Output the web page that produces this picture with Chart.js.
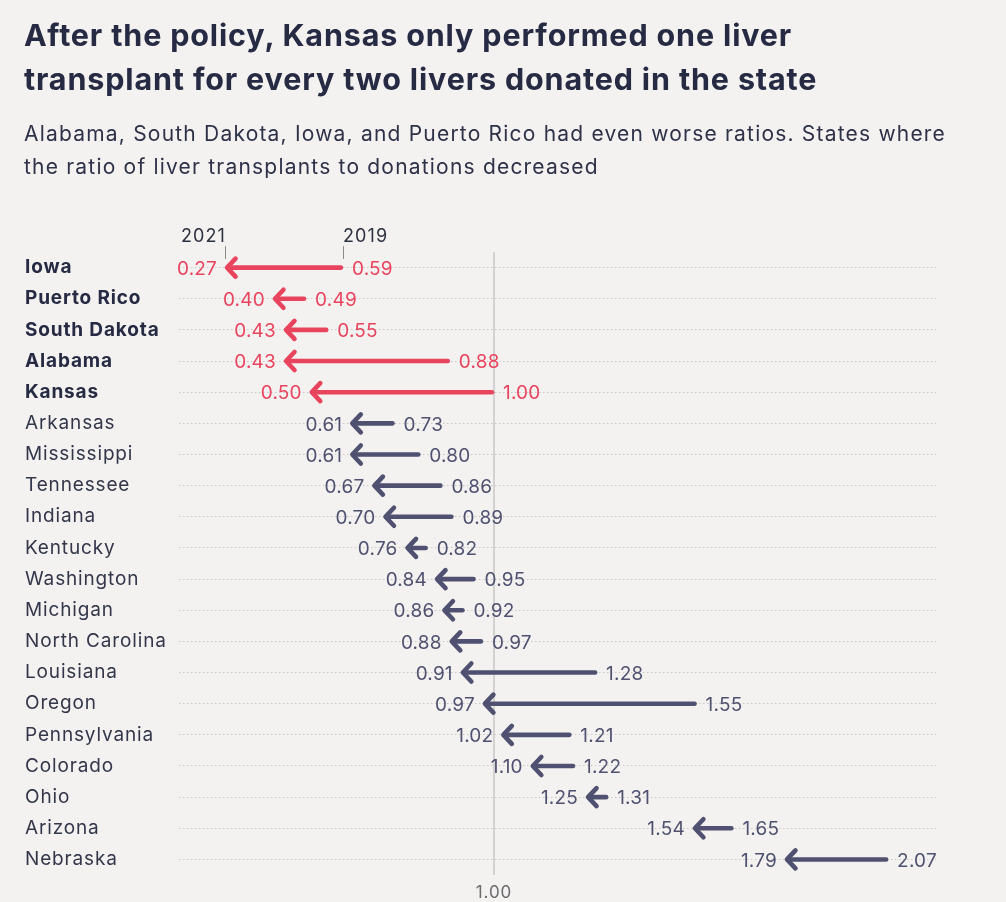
<!DOCTYPE html>
<html>
<head>
<meta charset="utf-8">
<script src="https://cdn.jsdelivr.net/npm/chart.js@4.4.1/dist/chart.umd.min.js"></script>
<style>
  html, body { margin: 0; padding: 0; background: #f3f2f0; }
  #wrap { position: relative; width: 1006px; height: 902px; overflow: hidden; }
  canvas { position: absolute; left: 0; top: 0; }
  #title { position: absolute; left: 24px; top: 13px; width: 980px; margin: 0;
    font-family: Inter, "Noto Sans", sans-serif; font-weight: 700; font-size: 30.5px; line-height: 44px;
    letter-spacing: 0.85px; color: #262a43; white-space: nowrap; }
  #sub { position: absolute; left: 24px; top: 117px; width: 980px; margin: 0;
    font-family: Inter, "Noto Sans", sans-serif; font-weight: 400; font-size: 21px; line-height: 33px;
    letter-spacing: 1.2px; color: #2e3148; white-space: nowrap; }
</style>
</head>
<body>
<div id="wrap">
  <canvas id="c" width="1006" height="902"></canvas>
  <h1 id="title">After the policy, Kansas only performed one liver<br>transplant for every two livers donated in the state</h1>
  <p id="sub">Alabama, South Dakota, Iowa, and Puerto Rico had even worse ratios. States where<br>the ratio of liver transplants to donations decreased</p>
</div>
<script>
const states = ["Iowa","Puerto Rico","South Dakota","Alabama","Kansas","Arkansas","Mississippi","Tennessee","Indiana","Kentucky","Washington","Michigan","North Carolina","Louisiana","Oregon","Pennsylvania","Colorado","Ohio","Arizona","Nebraska"];
const ratio2019 = [0.59,0.49,0.55,0.88,1.00,0.73,0.80,0.86,0.89,0.82,0.95,0.92,0.97,1.28,1.55,1.21,1.22,1.31,1.65,2.07];
const ratio2021 = [0.27,0.40,0.43,0.43,0.50,0.61,0.61,0.67,0.70,0.76,0.84,0.86,0.88,0.91,0.97,1.02,1.10,1.25,1.54,1.79];
const highlighted = ["Iowa","Puerto Rico","South Dakota","Alabama","Kansas"];
const xTicks = [1.00];
const yearLabels = ["2021","2019"];

const RED = "#e9445e";
const DARK = "#505170";
const FONT = "Inter, 'Noto Sans', sans-serif";

const isHi = i => highlighted.includes(states[i]);

const spacingPlugin = {
  id: "spacing",
  beforeDraw(chart) { chart.ctx.letterSpacing = "0.85px"; },
  beforeDatasetsDraw(chart) { chart.ctx.letterSpacing = "0px"; }
};

const arrowPlugin = {
  id: "arrows",
  afterDatasetsDraw(chart) {
    const ctx = chart.ctx;
    const m21 = chart.getDatasetMeta(0).data;
    const m19 = chart.getDatasetMeta(1).data;
    ctx.save();
    ctx.letterSpacing = "0.2px";
    for (let i = 0; i < states.length; i++) {
      const a = m21[i], b = m19[i];
      const col = isHi(i) ? RED : DARK;
      const y = a.y;
      ctx.strokeStyle = col;
      ctx.lineCap = "round";
      ctx.lineJoin = "round";
      ctx.lineWidth = 4.6;
      ctx.beginPath();
      ctx.moveTo(b.x - 2, y);
      ctx.lineTo(a.x + 3, y);
      ctx.stroke();
      ctx.beginPath();
      ctx.moveTo(a.x + 10.5, y - 9);
      ctx.lineTo(a.x + 2, y);
      ctx.lineTo(a.x + 10.5, y + 9);
      ctx.stroke();
      ctx.fillStyle = col;
      ctx.font = "400 19px " + FONT;
      ctx.textBaseline = "middle";
      ctx.textAlign = "right";
      ctx.fillText(ratio2021[i].toFixed(2), a.x - 8, y + 1.5);
      ctx.textAlign = "left";
      ctx.fillText(ratio2019[i].toFixed(2), b.x + 9, y + 1.5);
    }
    // year header
    const a0 = m21[0], b0 = m19[0];
    ctx.strokeStyle = "#8a8a8a";
    ctx.lineWidth = 1;
    ctx.beginPath();
    ctx.moveTo(Math.round(a0.x) + 0.5, a0.y - 21);
    ctx.lineTo(Math.round(a0.x) + 0.5, a0.y - 9);
    ctx.moveTo(Math.round(b0.x) + 0.5, b0.y - 21);
    ctx.lineTo(Math.round(b0.x) + 0.5, b0.y - 9);
    ctx.stroke();
    ctx.fillStyle = "#2f3142";
    ctx.font = "400 18px " + FONT;
    ctx.letterSpacing = "1.1px";
    ctx.textBaseline = "middle";
    ctx.textAlign = "right";
    ctx.fillText(yearLabels[0], a0.x + 1, a0.y - 31);
    ctx.textAlign = "left";
    ctx.fillText(yearLabels[1], b0.x, b0.y - 31);
    ctx.restore();
  }
};

new Chart(document.getElementById("c"), {
  type: "scatter",
  data: {
    datasets: [
      { label: "2021", data: states.map((s, i) => ({ x: ratio2021[i], y: s })), pointRadius: 0 },
      { label: "2019", data: states.map((s, i) => ({ x: ratio2019[i], y: s })), pointRadius: 0 }
    ]
  },
  options: {
    responsive: false,
    animation: false,
    events: [],
    layout: { padding: { top: 252, left: 25, right: 70, bottom: 0 } },
    plugins: { legend: { display: false }, tooltip: { enabled: false } },
    scales: {
      x: {
        type: "linear",
        min: 0.145,
        max: 2.2,
        afterBuildTicks: s => { s.ticks = xTicks.map(v => ({ value: v })); },
        afterFit: s => { s.height = 27; },
        grid: { color: "#d3d2d0", lineWidth: 2, drawTicks: false },
        border: { display: false },
        ticks: {
          padding: 8,
          color: "#6b6b70",
          font: { family: FONT, size: 17 },
          callback: v => Number(v).toFixed(2)
        }
      },
      y: {
        type: "category",
        labels: states,
        offset: true,
        afterFit: s => { s.width = 154; },
        grid: { color: "#c9c8c6", lineWidth: 1, drawTicks: false, offset: false },
        border: { display: false, dash: [1.5, 2.5] },
        ticks: {
          crossAlign: "far",
          color: ctx => isHi(ctx.index) ? "#262a43" : "#34364a",
          font: ctx => ({ family: FONT, size: 19, weight: isHi(ctx.index) ? "700" : "400" })
        }
      }
    }
  },
  plugins: [spacingPlugin, arrowPlugin]
});
</script>
</body>
</html>
